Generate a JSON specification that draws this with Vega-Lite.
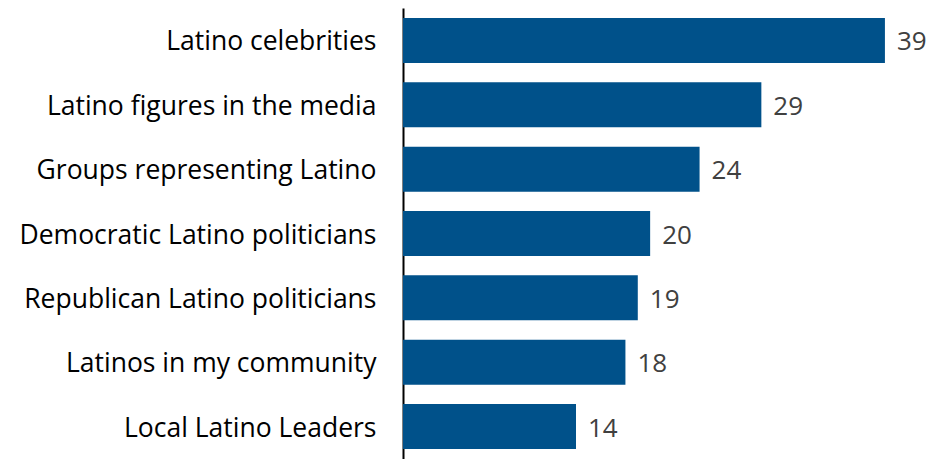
{
  "$schema": "https://vega.github.io/schema/vega-lite/v6.json",
  "autosize": {"type": "none"},
  "padding": {"left": 403, "top": 8, "right": 21, "bottom": 0},
  "width": 519,
  "height": 451,
  "background": "white",
  "config": {"view": {"stroke": null}},
  "data": {"values": [
    {"group": "Latino celebrities", "value": 39},
    {"group": "Latino figures in the media", "value": 29},
    {"group": "Groups representing Latino", "value": 24},
    {"group": "Democratic Latino politicians", "value": 20},
    {"group": "Republican Latino politicians", "value": 19},
    {"group": "Latinos in my community", "value": 18},
    {"group": "Local Latino Leaders", "value": 14}
  ]},
  "encoding": {
    "y": {"field": "group", "type": "nominal", "sort": null,
      "scale": {"paddingInner": 0.3, "paddingOuter": 0.155},
      "axis": {"title": null, "ticks": false, "domainColor": "#000000", "domainWidth": 2, "labelFont": "Open Sans", "labelFontSize": 26.5, "labelColor": "#000000", "labelPadding": 27, "labelLimit": 420, "labelOffset": 2}},
    "x": {"field": "value", "type": "quantitative", "scale": {"domain": [0, 42], "nice": false}, "axis": null}
  },
  "layer": [
    {"mark": {"type": "bar", "color": "#00518A"}},
    {"mark": {"type": "text", "align": "left", "dx": 12, "dy": 2, "font": "Open Sans", "fontSize": 26, "color": "#404040"},
     "encoding": {"text": {"field": "value", "type": "quantitative"}}}
  ]
}
